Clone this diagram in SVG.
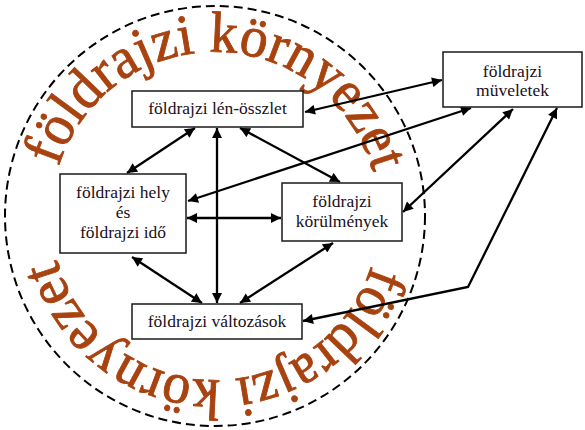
<svg xmlns="http://www.w3.org/2000/svg" width="585" height="430" viewBox="0 0 585 430">
  <style>
    .box { fill: #ffffff; stroke: #1a1a1a; stroke-width: 1.5; }
    .lbl { font-family: "Liberation Serif", "Times New Roman", serif; font-size: 17.5px; fill: #1a0f1a; text-anchor: middle; }
    .big { font-family: "Liberation Serif", "Times New Roman", serif; font-size: 58px; fill: #A8420F; stroke: #A8420F; stroke-width: 0.9; }
    .con { stroke: #000; stroke-width: 2.3; fill: none; marker-start: url(#ah); marker-end: url(#ah); }
  </style>
  <defs>
    <marker id="ah" viewBox="0 0 10 10" refX="10" refY="5" markerWidth="12" markerHeight="10" markerUnits="userSpaceOnUse" orient="auto-start-reverse">
      <path d="M0,0 L10,5 L0,10 z" fill="#000"/>
    </marker>
    <path id="arcTop" d="M 51,216 A 164 164 0 0 1 379,216"/>
    <path id="arcBot" d="M 379,216 A 164 164 0 0 1 51,216"/>
  </defs>
  <rect width="585" height="430" fill="#ffffff"/>

  <g id="environment">
    <circle cx="215" cy="216" r="210" fill="none" stroke="#000" stroke-width="2" stroke-dasharray="9 5"/>
    <text class="big" transform="rotate(1 215 216)"><textPath href="#arcTop" startOffset="50%" text-anchor="middle" textLength="421" lengthAdjust="spacingAndGlyphs">földrajzi környezet</textPath></text>
    <text class="big" transform="rotate(1 215 216)"><textPath href="#arcBot" startOffset="50%" text-anchor="middle" textLength="421" lengthAdjust="spacingAndGlyphs">földrajzi környezet</textPath></text>
  </g>

  <g id="connectors">
    <line class="con" x1="195" y1="128" x2="127" y2="173"/>
    <line class="con" x1="217" y1="128" x2="217" y2="303"/>
    <line class="con" x1="240" y1="128" x2="340" y2="182"/>
    <line class="con" x1="187" y1="218" x2="281" y2="218"/>
    <line class="con" x1="132" y1="257" x2="202" y2="303"/>
    <line class="con" x1="333" y1="243" x2="240" y2="303"/>
    <line class="con" x1="305" y1="112" x2="442" y2="80"/>
    <line class="con" x1="188" y1="201" x2="471" y2="108"/>
    <line class="con" x1="403" y1="212" x2="513" y2="109"/>
    <polyline class="con" points="557,108 468,287 303,321"/>
  </g>

  <g id="node-osszlet">
    <rect class="box" x="132" y="91" width="171" height="36"/>
    <text class="lbl" x="217.5" y="114">földrajzi lén-összlet</text>
  </g>
  <g id="node-hely">
    <rect class="box" x="60" y="174" width="126" height="79"/>
    <text class="lbl" x="123" y="198">földrajzi hely</text>
    <text class="lbl" x="123" y="218">és</text>
    <text class="lbl" x="123" y="238">földrajzi idő</text>
  </g>
  <g id="node-korulmenyek">
    <rect class="box" x="282" y="183" width="120" height="58"/>
    <text class="lbl" x="342" y="207">földrajzi</text>
    <text class="lbl" x="342" y="227">körülmények</text>
  </g>
  <g id="node-valtozasok">
    <rect class="box" x="132" y="304" width="170" height="35"/>
    <text class="lbl" x="217" y="327">földrajzi változások</text>
  </g>
  <g id="node-muveletek">
    <rect class="box" x="443" y="52" width="139" height="55"/>
    <text class="lbl" x="512.5" y="77">földrajzi</text>
    <text class="lbl" x="512.5" y="96">müveletek</text>
  </g>
</svg>
